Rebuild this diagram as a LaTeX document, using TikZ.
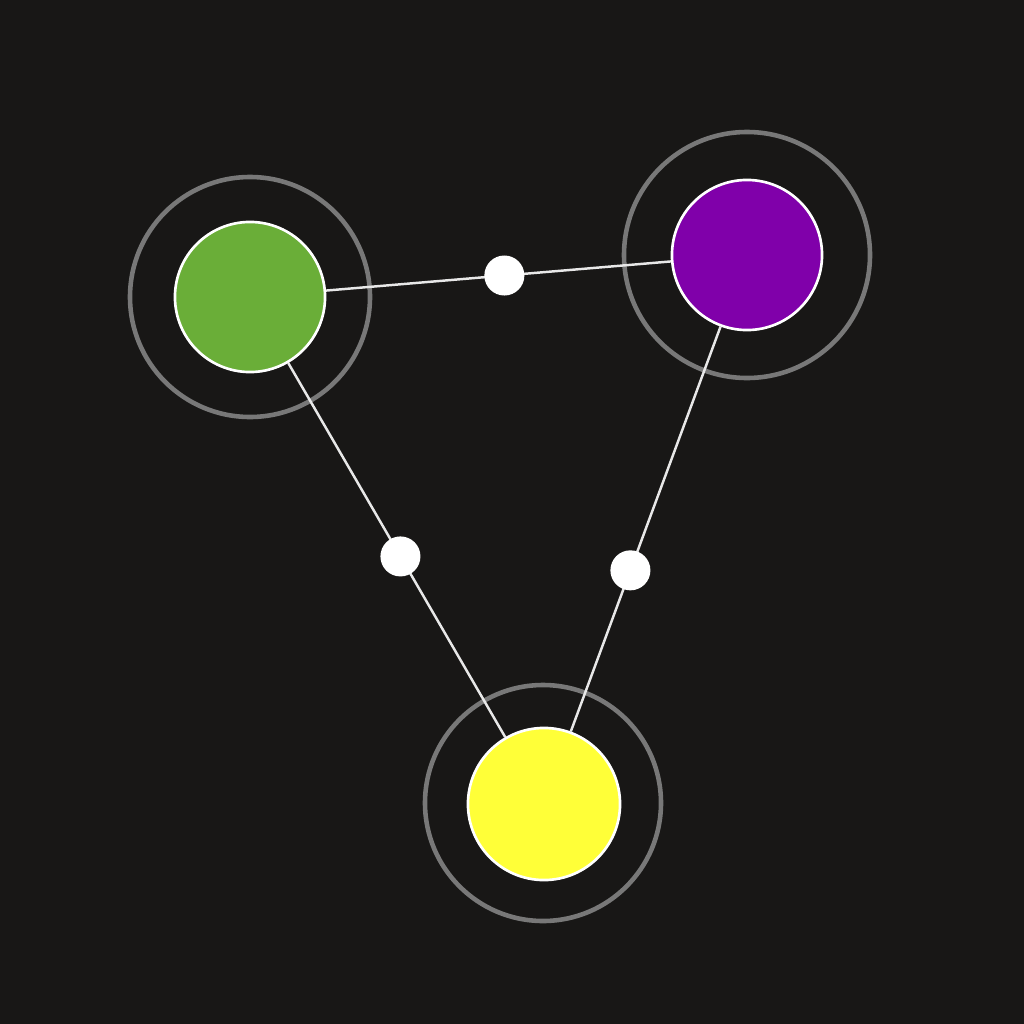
\documentclass[tikz,border=0pt]{standalone}
\usepackage{tikz}
\usepackage{xcolor}
\usetikzlibrary{positioning,backgrounds}
\definecolor{bg}{HTML}{181716}
\definecolor{leaf}{HTML}{6AAE38}
\definecolor{plum}{HTML}{8000AA}
\definecolor{sun}{HTML}{FFFF38}
\definecolor{halo}{HTML}{787878}
\definecolor{wire}{HTML}{E8E8E8}

\begin{document}
\begin{tikzpicture}[x=0.01cm,y=-0.01cm,
  ball/.style={circle,draw=white,line width=0.75pt,minimum size=1.5cm,inner sep=0pt},
  ring/.style={draw=halo,line width=1.3pt},
  bead/.style={circle,fill=white,minimum size=0.4cm,inner sep=0pt},
  link/.style={draw=wire,line width=0.7pt}]
  \fill[bg] (0,0) rectangle (1024,1024);
  \useasboundingbox (0,0) rectangle (1024,1024);
  \draw[ring] (250,297) circle[radius=120];
  \draw[ring] (747,255) circle[radius=123];
  \draw[ring] (543,803) circle[radius=118];
  \node[ball,fill=leaf] (green) at (250,297) {};
  \node[ball,fill=plum] (purple) at (747,255) {};
  \node[ball,fill=sun,minimum size=1.52cm] (yellow) at (544,804) {};

  \draw[link] (green) -- node[bead,pos=0.517] (gp) {} (purple);
  \draw[link] (green) -- node[bead,pos=0.517] (gy) {} (yellow);
  \draw[link] (purple) -- node[bead,pos=0.602] (py) {} (yellow);
\end{tikzpicture}
\end{document}
